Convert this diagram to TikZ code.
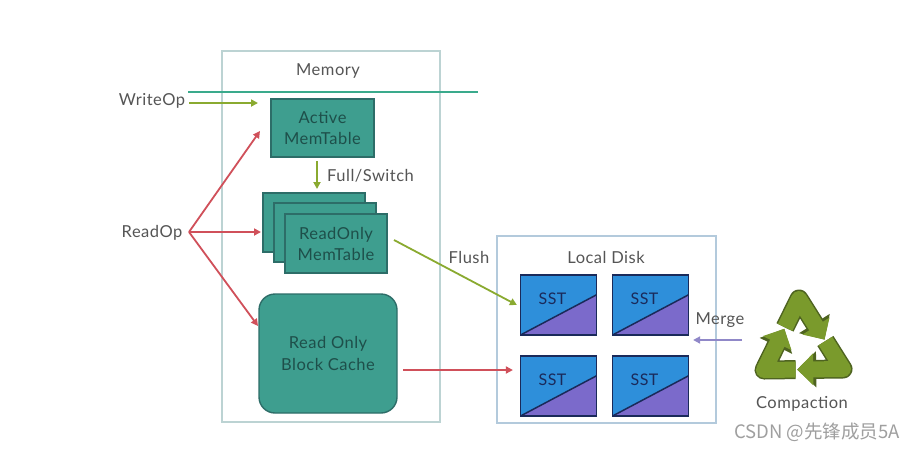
\documentclass[tikz,border=0pt]{standalone}
\usepackage{fontspec}
\setmainfont{Lato}[LetterSpace=3]
\newfontfamily\cjkfont{Noto Sans CJK SC}
\usetikzlibrary{arrows.meta,calc}
\definecolor{tealfill}{HTML}{3E9E8F}
\definecolor{tealdraw}{HTML}{2D6D68}
\definecolor{tealtext}{HTML}{1E4F4A}
\definecolor{memframe}{HTML}{BCD3D3}
\definecolor{diskframe}{HTML}{B3CADC}
\definecolor{tealline}{HTML}{3AAA8C}
\definecolor{greenarr}{HTML}{8AAA30}
\definecolor{redarr}{HTML}{D0505A}
\definecolor{purplearr}{HTML}{9088C8}
\definecolor{sstblue}{HTML}{2E8FDA}
\definecolor{sstpurple}{HTML}{7B6ACB}
\definecolor{sstdark}{HTML}{1A2A5A}
\definecolor{olivefill}{HTML}{7A9A2C}
\definecolor{olivedark}{HTML}{4E6320}
\definecolor{labelgray}{HTML}{555555}
\tikzset{
  frame/.style={draw=#1, line width=1.5pt, fill=none},
  tealbox/.style={draw=tealdraw, line width=1.4pt, fill=tealfill, text=tealtext,
    font=\fontsize{16.5}{21}\selectfont, align=center, inner sep=0pt},
  lbl/.style={text=labelgray, font=\fontsize{16.5}{19}\selectfont, inner sep=1pt},
  arr/.style={line width=1.8pt, draw=#1, -{Triangle[width=7pt,length=7pt]}},
  sst/.style={draw=sstdark, line width=1.2pt, fill=sstblue, minimum width=76pt, minimum height=60pt, inner sep=0pt,
    path picture={
      \fill[sstpurple] (path picture bounding box.south west) -- (path picture bounding box.south east)
        -- ($(path picture bounding box.north east)!0.33!(path picture bounding box.south east)$) -- cycle;
      \draw[sstdark, line width=1.5pt] (path picture bounding box.south west)
        -- ($(path picture bounding box.north east)!0.33!(path picture bounding box.south east)$);
    }},
  ssttext/.style={text=sstdark, font=\fontsize{16}{19}\selectfont, inner sep=0pt},
  recycdark/.style={draw=olivedark, line width=19pt, line join=round, -{Triangle[width=35pt,length=19pt]}},
  recyc/.style={draw=olivefill, line width=16pt, line join=round, -{Triangle[width=31pt,length=16pt]}},
}
\begin{document}
\begin{tikzpicture}[x=1pt,y=-1pt]
\useasboundingbox[fill=white] (0,0) rectangle (920,451);

% frames
\node[frame=memframe, minimum width=218pt, minimum height=371pt, inner sep=0pt] (mem) at (331,236.5) {};
\node[lbl] (memlbl) at (328,71) {Memory};
\node[frame=diskframe, minimum width=219pt, minimum height=187pt, inner sep=0pt] (disk) at (606.5,329.5) {};
\node[lbl] (disklbl) at (606,257) {Local Disk};

% teal line
\coordinate (tl1) at (188,92);
\coordinate (tl2) at (478,92);
\draw[tealline, line width=2.2pt] (tl1) -- (tl2);

% memtables
\node[tealbox, minimum width=103pt, minimum height=58pt] (active) at (322.5,128) {Active\\MemTable};
\node[tealbox, minimum width=102pt, minimum height=59pt] (ro1) at (314,222.5) {};
\node[tealbox, minimum width=102pt, minimum height=59pt] (ro2) at (325,232.5) {};
\node[tealbox, minimum width=102pt, minimum height=59pt] (ro3) at (336,243.5) {ReadOnly\\MemTable};
\node[tealbox, minimum width=138pt, minimum height=119pt, rounded corners=16pt] (cache) at (328,353.5) {Read Only\\[1pt]Block Cache};

% ops
\node[lbl] (write) at (152,101) {WriteOp};
\node[lbl] (read) at (152,233) {ReadOp};
\coordinate (wend) at (258,103);
\draw[arr=greenarr] ([xshift=3pt]write.east |- wend) -- (wend);

\coordinate (rstart) at (189,232);
\coordinate (r1) at (260,131);
\coordinate (r2) at (261,232);
\coordinate (r3) at (258,326);
\draw[arr=redarr] (rstart) -- (r1);
\draw[arr=redarr] (rstart) -- (r2);
\draw[arr=redarr] (rstart) -- (r3);

% full/switch
\coordinate (fs1) at (317,161);
\coordinate (fs2) at (317,189);
\draw[arr=greenarr] (fs1) -- (fs2);
\node[lbl, anchor=west] (fslbl) at (326,176) {Full/Switch};

% SSTs
\node[sst] (s1) at (558.5,305) {};
\node[sst] (s2) at (650.5,305) {};
\node[sst] (s3) at (558.5,386) {};
\node[sst] (s4) at (650.5,386) {};
\foreach \s in {s1,s2,s3,s4} {
  \node[ssttext] at ([xshift=-6pt,yshift=6pt]\s.center) {SST};
}

% flush
\coordinate (fl1) at (394,240);
\draw[arr=greenarr] (fl1) -- ([xshift=-3pt]s1.west);
\node[lbl] (fllbl) at (469,257) {Flush};

% cache to disk
\coordinate (c1) at (403,370);
\draw[arr=redarr] (c1) -- ([xshift=-7pt]s3.west |- c1);

% compaction symbol
\coordinate (T) at (799,299);
\coordinate (R) at (843,369);
\coordinate (L) at (764,370);
\foreach \st in {recycdark, recyc} {
  \draw[\st] ($(T)!0.40!(L)$) -- (T) -- ($(T)!0.58!(R)$);
  \draw[\st] ($(R)!0.40!(T)$) -- (R) -- ($(R)!0.58!(L)$);
  \draw[\st] ($(L)!0.40!(R)$) -- (L) -- ($(L)!0.58!(T)$);
}
\node[lbl] (comp) at (802,404) {Compaction};

% merge
\coordinate (m1) at (742,340);
\draw[arr=purplearr] (m1) -- ([xshift=4pt]s2.east |- m1);
\node[lbl] (mlbl) at (720,320) {Merge};

% watermark
\node[text=gray!75, font=\fontsize{18.5}{21}\selectfont\cjkfont, inner sep=0pt] (wm) at (817,432) {CSDN @先锋成员5A};
\end{tikzpicture}
\end{document}
